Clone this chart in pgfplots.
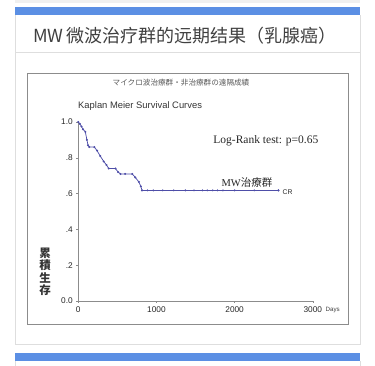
\documentclass[border=0pt]{standalone}
\usepackage{fontspec}
\setmainfont{Liberation Sans}
\newfontfamily\seriff{Liberation Serif}
\newfontfamily\scfont{Noto Sans CJK SC}
\newfontfamily\jpfont{Noto Sans CJK JP}
\usepackage{pgfplots}
\pgfplotsset{compat=1.18}
\definecolor{bluebar}{RGB}{91,143,228}
\definecolor{curve}{RGB}{78,78,168}
\definecolor{cardline}{RGB}{222,222,222}
\begin{document}
\begin{tikzpicture}
\begin{scope}[x=1pt,y=-1pt]
\path[use as bounding box] (0,0) rectangle (375,366);
\fill[black!6] (15,0) rectangle (360,3);
\fill[bluebar] (15,7) rectangle (360,15);
\draw[cardline] (15,15) -- (15,344) -- (360,344) -- (360,15);
\draw[cardline] (15,52.5) -- (360,52.5);
\node[anchor=west, font=\scfont\fontsize{18}{18}\selectfont, text=black!75, inner sep=0] at (33,36) {MW\kern3pt 微波治疗群的远期结果（乳腺癌）};
\draw[black!45, line width=0.7pt] (27,73) rectangle (348,324);
\node[font=\jpfont\fontsize{7.6}{8}\selectfont, text=black!65] at (181,83) {マイクロ波治療群・非治療群の遠隔成績};
\node[anchor=west, font=\fontsize{9.4}{10}\selectfont, text=black!80, inner sep=0] at (78,106.5) {Kaplan Meier Survival Curves};
\node[font=\jpfont\bfseries\fontsize{11.5}{12.5}\selectfont, text=black!80, align=center, inner sep=0] at (45,272) {累\\積\\生\\存};
\fill[bluebar] (15,353) rectangle (360,361);
\draw[cardline] (15,361) -- (15,366);
\draw[cardline] (360,361) -- (360,366);
\end{scope}
\begin{axis}[
  at={(78.3pt,-301pt)}, anchor=south west,
  scale only axis, width=234.5pt, height=179pt,
  xmin=0, xmax=3000, ymin=0, ymax=1,
  axis lines*=left,
  axis line style={black!45, line width=0.6pt, -},
  xtick={0,1000,2000,3000},
  ytick={0,0.2,0.4,0.6,0.8,1},
  yticklabels={0.0,.2,.4,.6,.8,1.0},
  tick style={black!45, line width=0.5pt},
  tick align=outside, major tick length=2pt,
  /pgf/number format/assume math mode=true,
  /pgf/number format/1000 sep={},
  tick label style={font=\fontsize{8.3}{9}\selectfont, text=black!85},
  xticklabel style={yshift=-0.5pt},
  clip=false,
]
\addplot[curve, line width=0.75pt, mark=*, mark size=0.6pt] coordinates {
(0,1.0) (20,0.99) (40,0.975) (60,0.96) (90,0.945) (110,0.90) (125,0.87) (140,0.86)
(205,0.86) (240,0.84) (280,0.81) (325,0.78) (360,0.76) (390,0.74) (475,0.74)
(510,0.72) (540,0.71) (600,0.71) (690,0.71) (730,0.69) (775,0.665) (800,0.64)
(815,0.618) (2560,0.618)
};
\addplot[curve, only marks, mark=*, mark size=0.75pt] coordinates {
(885,0.618) (960,0.618) (1080,0.618) (1220,0.618) (1370,0.618) (1480,0.618)
(1590,0.618) (1650,0.618) (1720,0.618) (1780,0.618) (1850,0.618) (2000,0.618)
(2250,0.618) (2560,0.618)
};
\node[font=\seriff\fontsize{11.5}{12}\selectfont, text=black!85] at (axis cs:2400,0.894) {Log-Rank test: p=0.65};
\node[font=\fontsize{10.5}{11}\selectfont, text=black!85] at (axis cs:2157,0.662) {{\seriff MW}{\jpfont 治療群}};
\node[anchor=west, font=\fontsize{6.8}{7}\selectfont, text=black!85, inner sep=1pt] at (axis cs:2600,0.608) {CR};
\node[anchor=west, font=\fontsize{6.2}{7}\selectfont, text=black!75, inner sep=1pt] at (axis cs:3150,-0.05) {Days};
\end{axis}
\end{tikzpicture}
\end{document}
